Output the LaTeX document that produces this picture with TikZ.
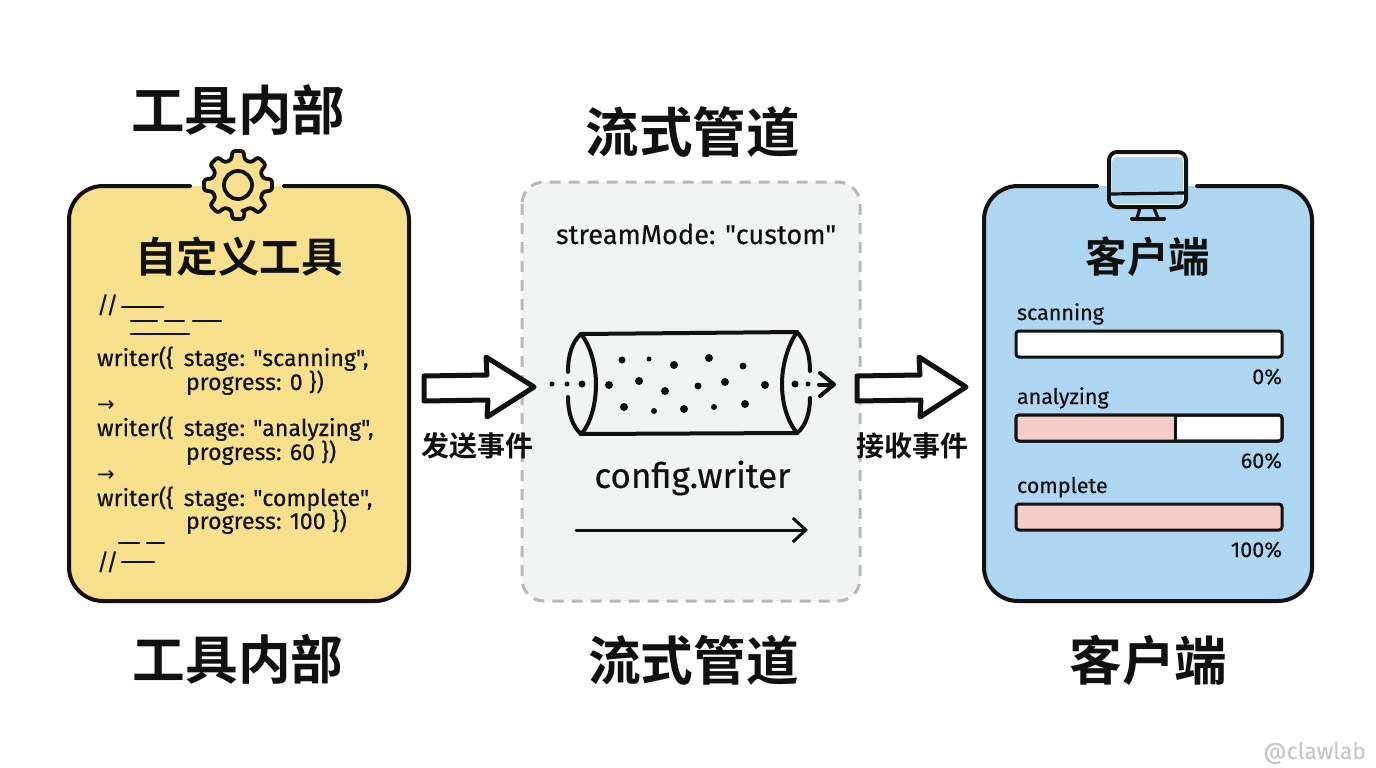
\documentclass[tikz,border=0pt]{standalone}
\usepackage{fontspec}
\usetikzlibrary{arrows.meta}
\setmainfont{Fira Sans}[Ligatures=TeXOff,FakeBold=0.25,AutoFakeBold=0.25]
\newfontfamily\basefont{Fira Sans}[Ligatures=TeXOff,FakeBold=0.3]
\newfontfamily\cjkb{Noto Sans CJK SC Bold}
\newfontfamily\arrowfont{DejaVu Sans}
\definecolor{inkc}{HTML}{111111}
\definecolor{yellowp}{HTML}{F7E08C}
\definecolor{bluep}{HTML}{AED6F0}
\definecolor{greyp}{HTML}{F1F2F2}
\definecolor{dashc}{HTML}{B8B8B8}
\definecolor{pinkp}{HTML}{F6CCC8}
\newcommand{\wgap}{\hspace{10pt}}
\tikzset{
  txt/.style={inner sep=0pt,outer sep=0pt,text=inkc},
  title/.style={txt,font=\cjkb\fontsize{52.7}{54}\selectfont},
  headline/.style={txt,font=\cjkb\fontsize{41.5}{42}\selectfont},
  evlabel/.style={txt,font=\cjkb\fontsize{28}{28}\selectfont},
  code/.style={txt,anchor=base west,font=\basefont\fontsize{23.2}{24}\selectfont},
  barlabel/.style={txt,anchor=base west,font=\basefont\fontsize{21.5}{24}\selectfont},
  pct/.style={txt,anchor=base east,font=\basefont\fontsize{21.5}{24}\selectfont},
  outline/.style={draw=inkc,line width=4pt,line cap=round,line join=round},
  thin line/.style={draw=inkc,line width=2.4pt,line cap=round},
  bar/.style={draw=inkc,line width=3pt,line join=round},
  blockarrow/.style={draw=inkc,fill=white,line width=5pt,line join=round},
  speck/.style={fill=inkc,draw=none},
}
\begin{document}
\begin{tikzpicture}[x=1pt,y=-1pt]
\useasboundingbox (0,0) rectangle (1376,768);
% titles
\node[title,font=\cjkb\fontsize{53.5}{54}\selectfont] (t1) at (238,110) {工具内部};
\node[title,font=\cjkb\fontsize{53.5}{54}\selectfont] (t2) at (692.5,132) {流式管道};
\node[title] (b1) at (238,659) {工具内部};
\node[title] (b2) at (693.5,660) {流式管道};
\node[title] (b3) at (1148.5,660) {客户端};

% yellow panel
\fill[yellowp,rounded corners=34pt] (69,186) rectangle (409,601);
\draw[outline,rounded corners=34pt] (190,186) -- (69,186) -- (69,601) -- (409,601) -- (409,186) -- (284,186);
\begin{scope}[shift={(238,185)}]
  \draw[outline,fill=yellowp,rounded corners=2.5pt,line width=3.8pt]
    (76:26) foreach \a in {90,135,...,405} { -- (\a-15:26) -- (\a-9:34.5) -- (\a+9:34.5) -- (\a+15:26) } -- cycle;
  \draw[draw=inkc,line width=3.8pt] (0,0) circle (14);
\end{scope}
\node[headline] (h1) at (239,257) {自定义工具};
\node[code] (c0) at (97,313) {//};
\draw[thin line] (122,307) -- (163,307);
\draw[thin line] (131,321) -- (157,321);
\draw[thin line] (165,321) -- (184,321);
\draw[thin line] (193,321) -- (221,321);
\draw[thin line] (131,334) -- (189,334);
\node[code] (c1) at (97,366) {writer(\{\wgap stage: "scanning",};
\node[code] (c2) at (186,390) {progress: 0 \})};
\node[code,font=\arrowfont\fontsize{21}{24}\selectfont] (a1) at (97,411) {→};
\node[code] (c3) at (97,436) {writer(\{\wgap stage: "analyzing",};
\node[code] (c4) at (186,460) {progress: 60 \})};
\node[code,font=\arrowfont\fontsize{21}{24}\selectfont] (a2) at (97,481) {→};
\node[code] (c5) at (97,506) {writer(\{\wgap stage: "complete",};
\node[code] (c6) at (186,529) {progress: 100 \})};
\draw[thin line] (119,543) -- (139,543);
\draw[thin line] (147,543) -- (164,543);
\node[code] (c7) at (97,570) {//};
\draw[thin line] (122,562) -- (154,562);

% middle panel
\draw[fill=greyp,draw=dashc,line width=3pt,dash pattern=on 11pt off 8pt,rounded corners=22pt] (522,182) rectangle (860,601);
\node[txt,anchor=base west,font=\basefont\fontsize{27.2}{28}\selectfont] (sm) at (556,244) {streamMode: "custom"};
% tube
\draw[outline] (581,334) -- (797,332);
\draw[outline] (581,434) -- (797,433);
\draw[outline] (581,334) .. controls (590,345) and (596,365) .. (596,384) .. controls (596,405) and (590,425) .. (581,434);
\draw[outline] (797,332) .. controls (788,345) and (782,365) .. (782,384) .. controls (782,405) and (788,422) .. (797,433);
\draw[outline] (581,334) .. controls (572,342) and (568,355) .. (568,372);
\draw[outline] (568,397) .. controls (568,412) and (572,426) .. (581,434);
\draw[outline] (797,332) .. controls (806,342) and (810,355) .. (810,371);
\draw[outline] (810,398) .. controls (810,412) and (806,426) .. (797,433);
\foreach \x/\y/\r in {552/384/2.5,567/384/2.5,582/384/3.5,609/385/4,639/381/4,665/391/4,698/386/3.5,725/382/4,765/385/4,795/384/3.5,808/384/2.5,622/360/3.5,649/359/2.5,674/365/4,709/358/4,743/366/3.5,624/407/4,654/411/3,684/409/4,714/407/3,745/404/4}
  \fill[speck] (\x,\y) circle (\r);
\draw[outline] (820,373) -- (834,384.5) -- (820,396);
\draw[outline] (819,384.5) -- (832,384.5);
\node[txt,font=\basefont\fontsize{35}{36}\selectfont] (cw) at (692.5,478) {config.writer};
\coordinate (cwa) at (576,530);
\coordinate (cwb) at (808,530);
\draw[draw=inkc,line width=3pt,line cap=round,-{Straight Barb[length=13pt,width=24pt,line width=3pt]}] (cwa) -- (cwb);

% block arrows
\draw[blockarrow] (424,376) -- (487,375) -- (486,357) -- (534,387) -- (487,417) -- (488,400) -- (424,401) -- cycle;
\draw[blockarrow] (857,376) -- (920,375) -- (919,357) -- (966,387) -- (920,417) -- (921,400) -- (857,401) -- cycle;
\node[evlabel] (e1) at (477,446) {发送事件};
\node[evlabel] (e2) at (912,446) {接收事件};

% blue panel
\fill[bluep,rounded corners=34pt] (984,186) rectangle (1312,601);
\draw[outline,rounded corners=34pt] (1097,186) -- (984,186) -- (984,601) -- (1312,601) -- (1312,186) -- (1197,186);
\fill[white,rounded corners=7pt] (1109,152) rectangle (1186,208);
\fill[bluep,rounded corners=5pt] (1112,157) rectangle (1183,204);
\draw[outline,rounded corners=8pt] (1109,152) rectangle (1186,207);
\draw[outline,line width=3.2pt] (1110,194) -- (1185,193);
\draw[outline,line width=3.2pt] (1140,208) -- (1137,218);
\draw[outline,line width=3.2pt] (1154,208) -- (1158,218);
\draw[outline,line width=4pt] (1132,218.5) -- (1164,218.5);
\node[headline] (h3) at (1148,257) {客户端};

\node[barlabel] (l1) at (1017,320) {scanning};
\draw[bar,fill=white,rounded corners=3pt] (1016,331) rectangle (1282,357);
\node[pct] (p1) at (1282,384) {0\%};
\node[barlabel] (l2) at (1017,404) {analyzing};
\draw[bar,fill=white,rounded corners=3pt] (1016,415) rectangle (1282,441);
\fill[pinkp,rounded corners=3pt] (1017,416) rectangle (1175,440);
\draw[bar,rounded corners=3pt] (1016,415) rectangle (1282,441);
\draw[bar] (1175,415) -- (1175,441);
\node[pct] (p2) at (1282,468) {60\%};
\node[barlabel] (l3) at (1017,493) {complete};
\draw[bar,fill=pinkp,rounded corners=3pt] (1016,504) rectangle (1282,530);
\node[pct] (p3) at (1282,557) {100\%};

\node[txt,anchor=base east,text=black!22,font=\fontsize{23}{24}\selectfont] (wm) at (1366,759) {@clawlab};
\end{tikzpicture}
\end{document}
